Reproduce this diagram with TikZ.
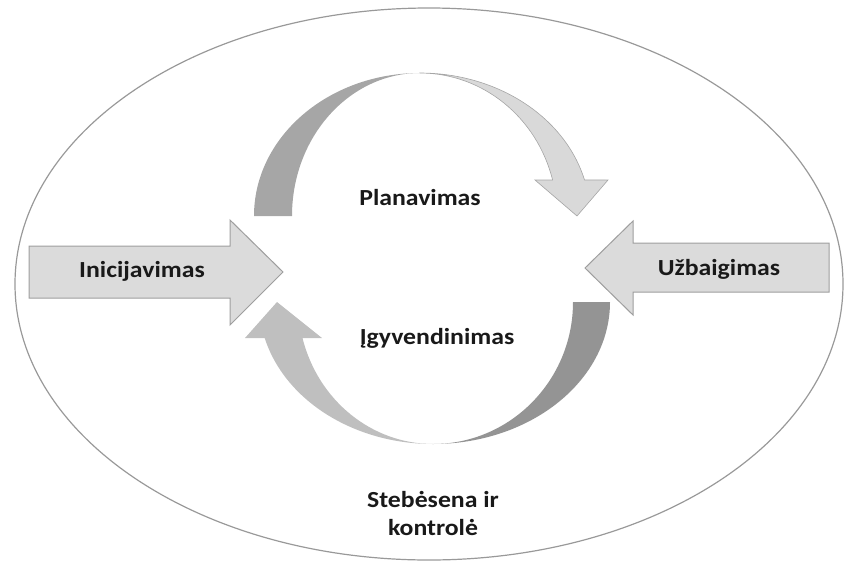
\documentclass[tikz,border=0pt]{standalone}
\usepackage{fontspec}
\setmainfont{Carlito}[FakeStretch=1.12]
\begin{document}
\begin{tikzpicture}[x=1pt,y=-1pt,
  lbl/.style={font=\fontsize{23}{28}\selectfont\bfseries, text=black!90, inner sep=0pt, align=center},
  sidearrow/.style={fill=black!14, draw=black!38, line width=1pt, line join=miter},
  topdark/.style={fill=black!35},
  toplight/.style={fill=black!15, draw=black!35, line width=0.6pt},
  botdark/.style={fill=black!42},
  botlight/.style={fill=black!25}]
\useasboundingbox (0,0) rectangle (844,563);
% outer ellipse
\draw[draw=black!40, line width=1.2pt] (429,284) ellipse [x radius=414, y radius=276];

% left arrow
\draw[sidearrow] (29,246) -- (230,246) -- (230,220) -- (283,272) -- (230,325) -- (230,298) -- (29,298) -- cycle;
% right arrow
\draw[sidearrow] (829,243) -- (633,243) -- (633,221) -- (585,268) -- (633,315) -- (633,292) -- (829,292) -- cycle;

% top circular arrow
\fill[topdark] (254,216) arc[start angle=180, end angle=270, x radius=166, y radius=143]
  arc[start angle=270, end angle=180, x radius=128, y radius=143] -- cycle;
\draw[toplight] (420,73) arc[start angle=270, end angle=345.4, x radius=170, y radius=143]
  -- (608,180) -- (577,216) -- (535,180) -- (552.6,180)
  arc[start angle=345.4, end angle=270, x radius=137, y radius=143] -- cycle;

% bottom circular arrow
\fill[botdark] (610,302) arc[start angle=0, end angle=90, x radius=177, y radius=142]
  arc[start angle=90, end angle=0, x radius=140, y radius=142] -- cycle;
\fill[botlight] (433,444) arc[start angle=90, end angle=165.3, x radius=174, y radius=142]
  -- (245,338) -- (277,302) -- (322,338) -- (302.5,338)
  arc[start angle=165.3, end angle=90, x radius=135, y radius=142] -- cycle;

% labels
\node[lbl] (init) at (142,271) {Inicijavimas};
\node[lbl] (uzb) at (719,269) {Užbaigimas};
\node[lbl] (plan) at (420,198) {Planavimas};
\node[lbl] (igyv) at (437,338) {Įgyvendinimas};
\node[lbl] (steb) at (433,513) {Stebėsena ir\\kontrolė};
\end{tikzpicture}
\end{document}
